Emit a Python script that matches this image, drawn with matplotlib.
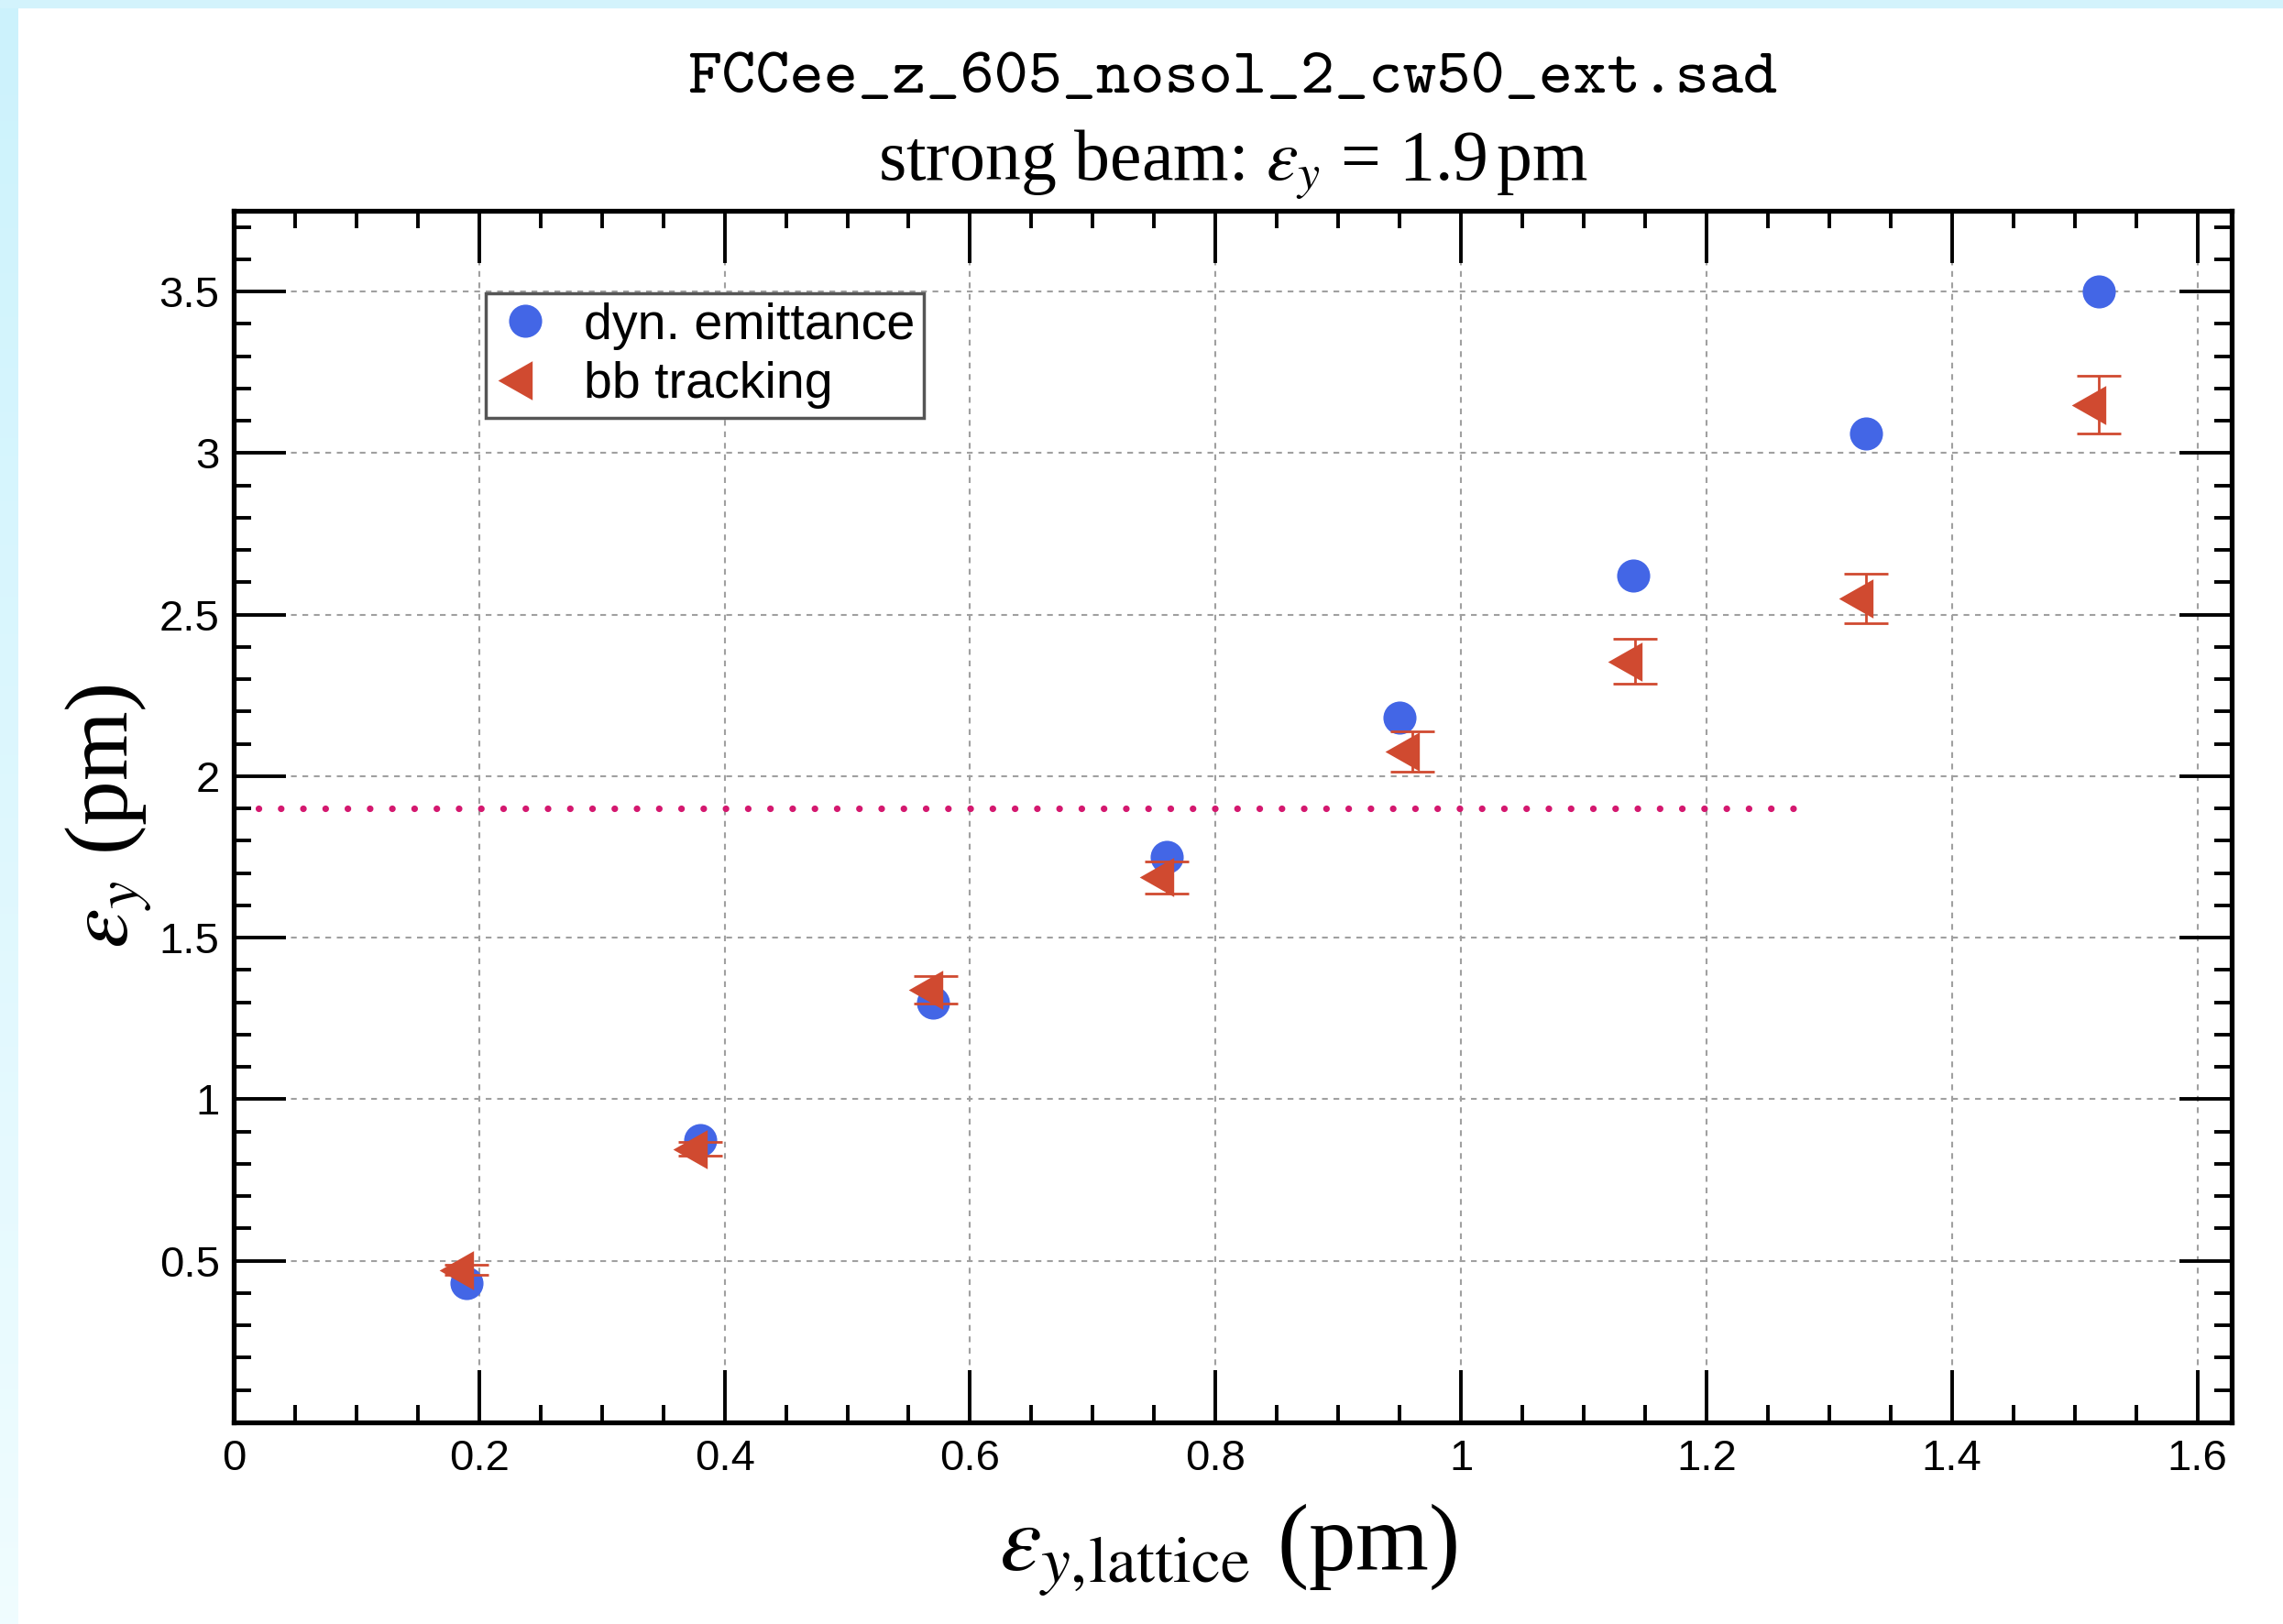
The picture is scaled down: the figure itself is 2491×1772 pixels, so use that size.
import numpy as np
import matplotlib
matplotlib.use('Agg')
import matplotlib.pyplot as plt
from matplotlib.ticker import MultipleLocator, FuncFormatter
from matplotlib.patches import Rectangle

# data
dyn_x = [0.19, 0.38, 0.57, 0.76, 0.95, 1.14, 1.33, 1.52]
dyn_y = [0.43, 0.875, 1.30, 1.75, 2.18, 2.62, 3.06, 3.50]

bb_x = [0.19, 0.38, 0.572, 0.76, 0.96, 1.142, 1.33, 1.52]
bb_y = [0.472, 0.846, 1.339, 1.687, 2.077, 2.355, 2.55, 3.15]
bb_err = [0.015, 0.021, 0.042, 0.049, 0.063, 0.07, 0.077, 0.09]

strong_x = [0.02, 1.28]
strong_y = [1.9, 1.9]

x_ticks = [0, 0.2, 0.4, 0.6, 0.8, 1.0, 1.2, 1.4, 1.6]
y_ticks = [0.5, 1.0, 1.5, 2.0, 2.5, 3.0, 3.5]

plt.rcParams['mathtext.fontset'] = 'stix'

W, H = 2491, 1772
fig = plt.figure(figsize=(W / 100, H / 100), dpi=100)
fig.patch.set_facecolor('white')

# light cyan slide border (left gradient + top strip)
bg = fig.add_axes([0, 0, 20 / W, 1])
grad = np.linspace(0, 1, 256).reshape(-1, 1)
c_top = np.array([0.80, 0.95, 0.99])
c_bot = np.array([0.94, 0.99, 1.0])
img = c_top[None, None, :] * (1 - grad[:, :, None]) + c_bot[None, None, :] * grad[:, :, None]
bg.imshow(img, aspect='auto', extent=[0, 1, 0, 1])
bg.axis('off')
fig.patches.append(Rectangle((0, 1 - 8 / H), 1, 8 / H, transform=fig.transFigure,
                             color='#d3f3fc', zorder=0))

ax = fig.add_axes([255 / W, 1 - 1552 / H, (2435 - 255) / W, (1552 - 230) / H])

blue = '#4366e6'
red = '#d04a30'
pink = '#d4186f'

ax.plot(strong_x, strong_y, color=pink, lw=5.2, linestyle=(0, (0.01, 3.35)),
        dash_capstyle='round', zorder=2)

ax.plot(dyn_x, dyn_y, 'o', color=blue, markersize=26, markeredgewidth=0,
        label='dyn. emittance', zorder=3)

ax.errorbar(bb_x, bb_y, yerr=bb_err, fmt='none', ecolor=red, elinewidth=2,
            capsize=17, capthick=2, zorder=4)
tri = [(-0.7, 0), (0.18, 0.5), (0.18, -0.5)]
ax.plot(bb_x, bb_y, linestyle='none', marker=tri, color=red, markersize=43,
        markeredgewidth=0, label='bb tracking', zorder=5)

ax.set_xlim(0, 1.628)
ax.set_ylim(0, 3.75)
ax.set_xticks(x_ticks)
ax.set_yticks(y_ticks)
ax.xaxis.set_minor_locator(MultipleLocator(0.05))
ax.yaxis.set_minor_locator(MultipleLocator(0.1))
fmt = FuncFormatter(lambda v, p: f'{v:g}')
ax.xaxis.set_major_formatter(fmt)
ax.yaxis.set_major_formatter(fmt)

ax.tick_params(which='both', direction='in', top=True, right=True, width=2.8, color='black')
ax.tick_params(which='major', length=41)
ax.tick_params(which='minor', length=14)
ax.tick_params(axis='x', which='major', pad=13, labelsize=34)
ax.tick_params(axis='y', which='major', pad=11, labelsize=34)
for lab in ax.get_xticklabels() + ax.get_yticklabels():
    lab.set_family('Liberation Sans')
for s in ax.spines.values():
    s.set_linewidth(3.8)

ax.grid(True, which='major', color='#a0a0a0', linestyle=(0, (3, 3)), lw=1.5)
ax.set_axisbelow(True)

leg = ax.legend(loc='upper left', bbox_to_anchor=(0.126, 0.932), borderaxespad=0,
                prop={'family': 'Liberation Sans', 'size': 40}, frameon=True,
                fancybox=False, edgecolor='#555555', framealpha=1,
                borderpad=0.18, labelspacing=0.22, handlelength=1.2,
                handletextpad=0.55)
leg.get_frame().set_linewidth(2.5)

# titles and axis labels
fig.text(1345 / W, 1 - 87 / H, 'FCCee_z_605_nosol_2_cw50_ext.sad',
         family='cmtt10', fontsize=51, ha='center', va='center')
fig.text(1345 / W, 1 - 180 / H, r'strong beam: $\varepsilon_y$ = 1.9$\,$pm',
         family='Liberation Serif', fontsize=56, ha='center', va='center')
fig.text(1340 / W, 1 - 1692 / H, r'$\varepsilon_{y,\!\mathrm{lattice}}$ (pm)',
         family='Liberation Serif', fontsize=74, ha='center', va='center')
fig.text(119 / W, 1 - 891 / H, r'$\varepsilon_y$ (pm)',
         family='Liberation Serif', fontsize=70, ha='center', va='center',
         rotation=90)

fig.savefig('out.png', dpi=100)
